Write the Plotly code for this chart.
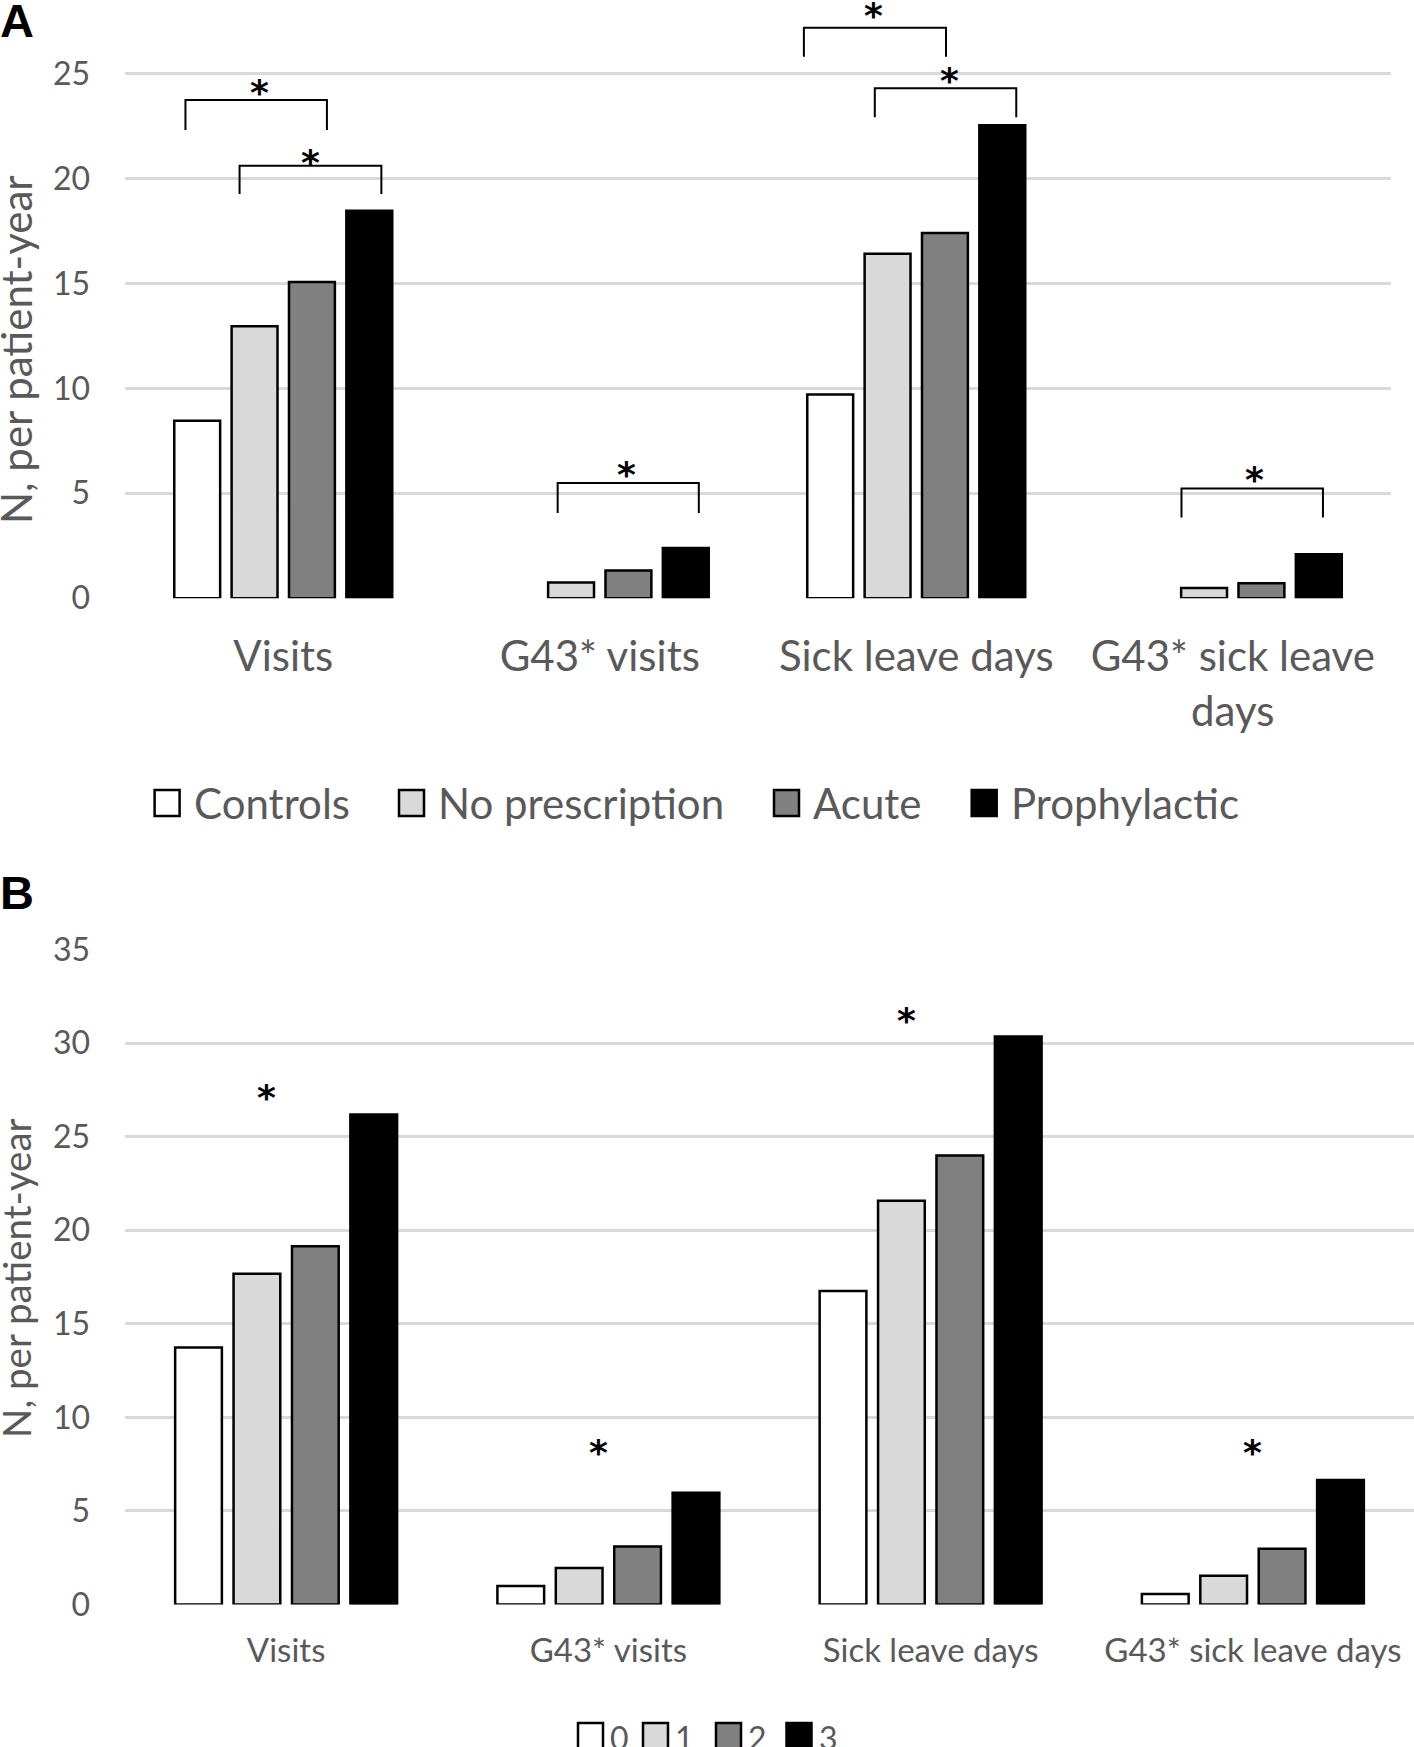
import plotly.graph_objects as go

W, H = 1414, 1747

# ---------------- data: panel A ----------------
categories_a = ["Visits", "G43* visits", "Sick leave days", "G43* sick leave<br>days"]
series_a = ["Controls", "No prescription", "Acute", "Prophylactic"]
controls_a = [8.45, None, 9.70, None]
no_prescription_a = [12.96, 0.75, 16.41, 0.49]
acute_a = [15.07, 1.32, 17.40, 0.71]
prophylactic_a = [18.46, 2.39, 22.53, 2.09]
ticks_a = [0, 5, 10, 15, 20, 25]

# significance brackets, panel A
bracket_cat = [0, 0, 1, 2, 2, 3]
bracket_left = [-0.309, -0.138, -0.133, -0.355, -0.131, -0.162]
bracket_right = [0.138, 0.310, 0.313, 0.094, 0.316, 0.285]
bracket_top = [23.73, 20.60, 5.49, 27.18, 24.29, 5.23]
bracket_bottom = [22.31, 19.26, 4.06, 25.79, 22.91, 3.85]
star_a_dx = [-0.076, 0.085, 0.085, -0.134, 0.104, 0.070]
star_a_y = [24.40, 21.03, 6.18, 28.07, 24.94, 5.92]

# ---------------- data: panel B ----------------
categories_b = ["Visits", "G43* visits", "Sick leave days", "G43* sick leave days"]
series_b = ["0", "1", "2", "3"]
level0_b = [13.74, 0.98, 16.76, 0.56]
level1_b = [17.68, 1.95, 21.58, 1.53]
level2_b = [19.15, 3.10, 24.00, 2.98]
level3_b = [26.19, 5.97, 30.36, 6.65]
ticks_b = [0, 5, 10, 15, 20, 25, 30, 35]

star_b_cat = [0, 1, 2, 3]
star_b_dx = [-0.062, -0.031, -0.074, 0.0]
star_b_y = [27.40, 8.43, 31.54, 8.43]

colors = ["#ffffff", "#d9d9d9", "#808080", "#000000"]
TXT = "#595959"
GRID = "#d9d9d9"
FONT = "Lato"

def px(x):
    return x / W

def py(y):
    return 1 - y / H

fig = go.Figure()

for name, vals, col in zip(series_a, [controls_a, no_prescription_a, acute_a, prophylactic_a], colors):
    fig.add_trace(go.Bar(x=list(range(len(categories_a))), y=vals, name=name,
                         marker=dict(color=col, line=dict(color="black", width=2.5)),
                         xaxis="x", yaxis="y", showlegend=False, hoverinfo="skip"))

for name, vals, col in zip(series_b, [level0_b, level1_b, level2_b, level3_b], colors):
    fig.add_trace(go.Bar(x=list(range(len(categories_b))), y=vals, name=name,
                         marker=dict(color=col, line=dict(color="black", width=2.5)),
                         xaxis="x2", yaxis="y2", showlegend=False, hoverinfo="skip"))

# plot geometry (pixels)
a_left, a_right, a_bottom, a_ppu = 125, 1391, 598.2, 20.99
b_left, b_right, b_top, b_bottom = 125, 1414, 949.7, 1604.4

shapes = []
annotations = []

STAR_FONT = dict(family="DejaVu Sans", size=36, color="black")

# brackets and stars (panel A)
for c, l, r, t, b in zip(bracket_cat, bracket_left, bracket_right, bracket_top, bracket_bottom):
    shapes.append(dict(type="path", xref="x", yref="y",
                       path=f"M {c + l},{b} L {c + l},{t} L {c + r},{t} L {c + r},{b}",
                       line=dict(color="black", width=2)))
for c, dx, y in zip(bracket_cat, star_a_dx, star_a_y):
    annotations.append(dict(x=c + dx, y=y, xref="x", yref="y", text="<b>*</b>", showarrow=False,
                            font=STAR_FONT, xanchor="center", yanchor="middle", yshift=-6))
for c, dx, y in zip(star_b_cat, star_b_dx, star_b_y):
    annotations.append(dict(x=c + dx, y=y, xref="x2", yref="y2", text="<b>*</b>", showarrow=False,
                            font=STAR_FONT, xanchor="center", yanchor="middle", yshift=-6))

# panel letters
annotations.append(dict(x=0, y=py(21), xref="paper", yref="paper", text="<b>A</b>", showarrow=False,
                        font=dict(family="Liberation Sans", size=47, color="black"),
                        xanchor="left", yanchor="middle", xshift=-2))
annotations.append(dict(x=0, y=py(893), xref="paper", yref="paper", text="<b>B</b>", showarrow=False,
                        font=dict(family="Liberation Sans", size=47, color="black"),
                        xanchor="left", yanchor="middle", xshift=-2))

# y axis titles
annotations.append(dict(x=px(16), y=py(350), xref="paper", yref="paper", text="N, per patient-year",
                        textangle=-90, showarrow=False, font=dict(family=FONT, size=42, color=TXT),
                        xanchor="center", yanchor="middle"))
annotations.append(dict(x=px(16), y=py(1278), xref="paper", yref="paper", text="N, per patient-year",
                        textangle=-90, showarrow=False, font=dict(family=FONT, size=38.5, color=TXT),
                        xanchor="center", yanchor="middle"))

# legends (manual swatches)
leg_a_x = [154.6, 399, 774, 971.7]
for sx, name, col in zip(leg_a_x, series_a, colors):
    shapes.append(dict(type="rect", xref="paper", yref="paper", x0=px(sx), x1=px(sx + 25),
                       y0=py(816), y1=py(790), fillcolor=col, line=dict(color="black", width=2.5)))
    annotations.append(dict(x=px(sx + 37), y=py(803), xref="paper", yref="paper", text=name,
                            showarrow=False, font=dict(family=FONT, size=42, color=TXT),
                            xanchor="left", yanchor="middle"))
leg_b_x = [578, 643, 716, 786.5]
for sx, name, col in zip(leg_b_x, series_b, colors):
    shapes.append(dict(type="rect", xref="paper", yref="paper", x0=px(sx), x1=px(sx + 25),
                       y0=py(1750), y1=py(1723), fillcolor=col, line=dict(color="black", width=2.5)))
    annotations.append(dict(x=px(sx + 30), y=py(1737), xref="paper", yref="paper", text=name,
                            showarrow=False, font=dict(family=FONT, size=32, color=TXT),
                            xanchor="left", yanchor="middle"))

fig.update_layout(
    width=W, height=H,
    margin=dict(l=0, r=0, t=0, b=0, autoexpand=False),
    paper_bgcolor="white", plot_bgcolor="white",
    barmode="group", bargap=0.275, bargroupgap=0.2,
    showlegend=False,
    xaxis=dict(domain=[px(a_left), px(a_right)], anchor="y", range=[-0.5, 3.5], automargin=False,
               tickvals=list(range(len(categories_a))), ticktext=categories_a,
               showgrid=False, zeroline=False, showline=False, ticks="",
               tickfont=dict(family=FONT, size=42, color=TXT), ticklabelstandoff=30),
    yaxis=dict(domain=[py(a_bottom), 1], anchor="x", range=[0, a_bottom / a_ppu], automargin=False,
               tickvals=ticks_a, showgrid=True, gridcolor=GRID, gridwidth=3,
               zeroline=False, showline=False, ticks="",
               tickfont=dict(family=FONT, size=32, color=TXT), ticklabelstandoff=34),
    xaxis2=dict(domain=[px(b_left), px(b_right)], anchor="y2", range=[-0.5, 3.5], automargin=False,
                tickvals=list(range(len(categories_b))), ticktext=categories_b,
                showgrid=False, zeroline=False, showline=False, ticks="",
                tickfont=dict(family=FONT, size=33, color=TXT), ticklabelstandoff=24),
    yaxis2=dict(domain=[py(b_bottom), py(b_top)], anchor="x2", range=[0, 35], automargin=False,
                tickvals=ticks_b, showgrid=True, gridcolor=GRID, gridwidth=3,
                zeroline=False, showline=False, ticks="",
                tickfont=dict(family=FONT, size=32, color=TXT), ticklabelstandoff=34),
    shapes=shapes,
    annotations=annotations,
)

fig.write_html("out.html", config={"displayModeBar": False},
               post_script="document.body.style.margin='0';document.body.style.overflow='hidden';")
